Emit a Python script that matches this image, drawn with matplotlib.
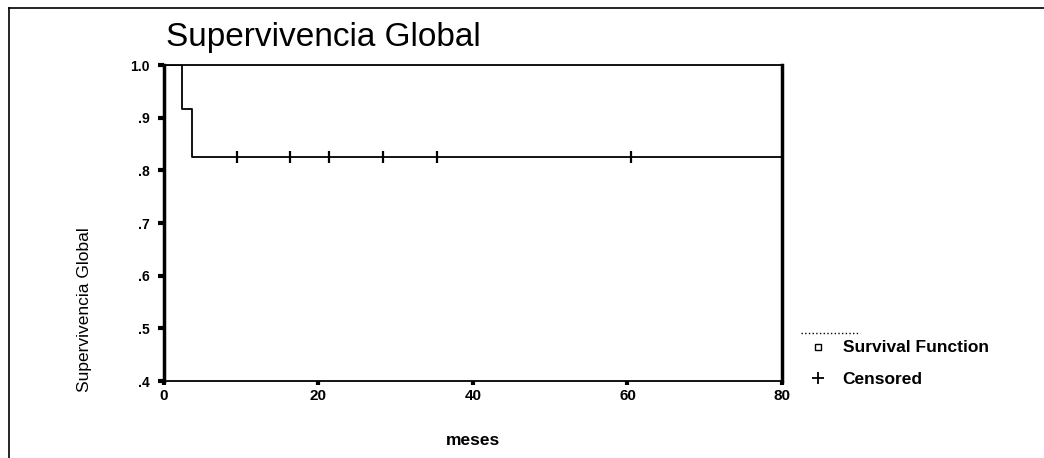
import numpy as np
import matplotlib
matplotlib.use("Agg")
import matplotlib.pyplot as plt
from matplotlib.lines import Line2D

plt.rcParams['font.family'] = ['Liberation Sans', 'DejaVu Sans']

# Kaplan-Meier data
step_times = [0, 2.4, 3.6, 80]
step_surv = [1.0, 0.917, 0.825, 0.825]
censor_times = [9.4, 16.3, 21.4, 28.3, 35.3, 60.5]
censor_surv = [0.825, 0.825, 0.825, 0.825, 0.825, 0.825]
y_ticks = [0.4, 0.5, 0.6, 0.7, 0.8, 0.9, 1.0]
y_labels = [".4", ".5", ".6", ".7", ".8", ".9", "1.0"]
x_ticks = [0, 20, 40, 60, 80]

fig = plt.figure(figsize=(10.44, 4.58), dpi=100)
ax = fig.add_axes([0.157, 0.168, 0.592, 0.69])

ax.step(step_times, step_surv, where="post", color="black", lw=1.3)
ax.plot(censor_times, censor_surv, ls="none", marker="|", ms=8, mew=1.6, color="black")

ax.set_xlim(0, 80)
ax.set_ylim(0.4, 1.0)
ax.set_xticks(x_ticks)
ax.set_xticklabels([str(t) for t in x_ticks], fontsize=11, fontweight="bold")
ax.set_yticks(y_ticks)
ax.set_yticklabels(y_labels, fontsize=10, fontweight="bold")
ax.tick_params(axis="y", length=4, width=3, pad=6)
ax.tick_params(axis="x", length=3, width=3, pad=3)

for side in ["left", "right"]:
    ax.spines[side].set_linewidth(2.5)
for side in ["top", "bottom"]:
    ax.spines[side].set_linewidth(1.3)

fig.text(0.159, 0.90, "Supervivencia Global", fontsize=24, ha="left", va="baseline")
fig.text(0.081, 0.325, "Supervivencia Global", fontsize=12.5, rotation=90,
         ha="center", va="center")
fig.text(0.453, 0.039, "meses", fontsize=12.5, fontweight="bold", ha="center", va="center")

# legend, drawn in figure coordinates
fig.add_artist(Line2D([0.767, 0.824], [0.273, 0.273], color="black", lw=1, ls=":"))
fig.add_artist(Line2D([0.784], [0.243], marker="s", ms=4, mfc="white", mec="black", mew=1))
fig.text(0.807, 0.241, "Survival Function", fontsize=12.5, fontweight="bold", va="center")
fig.add_artist(Line2D([0.784], [0.175], marker="+", ms=9, mew=1.3, color="black"))
fig.text(0.807, 0.171, "Censored", fontsize=12.5, fontweight="bold", va="center")

# outer frame (top and left)
fig.add_artist(Line2D([0.009, 1.0], [0.983, 0.983], color="black", lw=1.2))
fig.add_artist(Line2D([0.009, 0.009], [0.0, 0.983], color="black", lw=1.2))

fig.savefig("out.png", dpi=100)
